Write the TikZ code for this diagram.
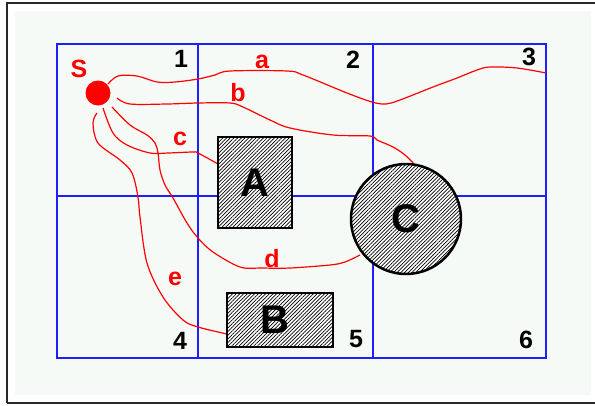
\documentclass[tikz,border=0pt]{standalone}
\usepackage{fontspec}
\setmainfont{Liberation Sans}
\usetikzlibrary{patterns.meta}
\definecolor{gridblue}{RGB}{30,30,255}
\definecolor{bgpale}{RGB}{245,250,247}
\definecolor{routered}{RGB}{255,0,0}
\definecolor{framegray}{RGB}{40,40,40}
\begin{document}
\begin{tikzpicture}[x=1pt,y=-1pt,
  frameline/.style={draw=framegray,line width=1.4pt},
  cell/.style={draw=gridblue,line width=1.4pt},
  route/.style={draw=routered,line width=1.2pt},
  obstacle/.style={draw=black,line width=2.8pt,inner sep=0pt,
    preaction={fill=white},
    pattern={Lines[angle=45,distance=2.6pt,line width=0.7pt]},
    font=\fontsize{40}{48}\selectfont\bfseries},
  cellnum/.style={anchor=base,font=\fontsize{25}{30}\selectfont\bfseries,inner sep=0pt},
  routelabel/.style={anchor=base,text=routered,font=\fontsize{25}{30}\selectfont\bfseries,inner sep=0pt}]
\useasboundingbox (0,0) rectangle (595,405);
% frame and background
\fill[bgpale] (15,11) rectangle (591,395);
\draw[frameline] (7,403) -- (7,3) -- (595,3);
\draw[frameline] (7,403) -- (595,403);
% grid
\draw[cell] (57,44) rectangle (546,358);
\draw[cell] (198,44) -- (198,358);
\draw[cell] (373,44) -- (373,358);
\draw[cell] (57,196) -- (546,196);
% source
\node[circle,fill=routered,minimum size=25pt,inner sep=0pt] (S) at (98,93) {};
\node[routelabel] (Slab) at (79,77) {S};
% route end points
\coordinate (aS) at (108,84);
\coordinate (bS) at (117,98);
\coordinate (cS) at (103,108);
\coordinate (dS) at (112,107);
\coordinate (eS) at (97,113);
\coordinate (aE) at (546,73);
\coordinate (bE) at (415,165);
\coordinate (cE) at (218,164);
\coordinate (dE) at (360,255);
\coordinate (eE) at (227,334);
% routes
\draw[route] plot[smooth,tension=0.55] coordinates {(aS) (118,76) (137,76) (157,82) (175,82) (198,79) (215,75) (230,71) (287,71) (303,75) (347,93) (372,102) (386,104) (400,100) (433,87) (457,78) (477,70) (490,67) (517,68) (aE)};
\draw[route] plot[smooth,tension=0.55] coordinates {(bS) (130,104) (167,104) (198,103) (230,103) (243,107) (270,120) (290,128) (333,135) (370,136) (377,140) (393,147) (405,155) (bE)};
\draw[route] plot[smooth,tension=0.55] coordinates {(cS) (113,133) (127,145) (150,153) (168,153) (193,152) (198,153) (cE)};
\draw[route] plot[smooth,tension=0.55] coordinates {(dS) (130,125) (147,135) (155,143) (158,153) (160,170) (165,185) (173,198) (187,223) (198,238) (213,252) (240,267) (262,268) (290,268) (330,265) (345,262) (dE)};
\draw[route] plot[smooth,tension=0.55] coordinates {(eS) (93,123) (98,143) (120,160) (132,173) (138,197) (140,217) (147,263) (163,297) (183,320) (198,327) (eE)};
% obstacles
\node[obstacle,rectangle,minimum width=74pt,minimum height=91pt] (A) at (255,182.5) {A};
\node[obstacle,rectangle,minimum width=106pt,minimum height=54pt] (B) at (280,320) {\hspace*{-10pt}B};
\node[obstacle,circle,minimum size=110pt,line width=2.5pt] (C) at (406,219) {C};
% cell numbers
\node[cellnum] (n1) at (181,67) {1};
\node[cellnum] (n2) at (353,68) {2};
\node[cellnum] (n3) at (529,65) {3};
\node[cellnum] (n4) at (180,349) {4};
\node[cellnum] (n5) at (356,347) {5};
\node[cellnum] (n6) at (526,348) {6};
% route labels
\node[routelabel] (la) at (262,68) {a};
\node[routelabel] (lb) at (238,101) {b};
\node[routelabel] (lc) at (180,145) {c};
\node[routelabel] (ld) at (272,267) {d};
\node[routelabel] (le) at (175,285) {e};
\end{tikzpicture}
\end{document}
